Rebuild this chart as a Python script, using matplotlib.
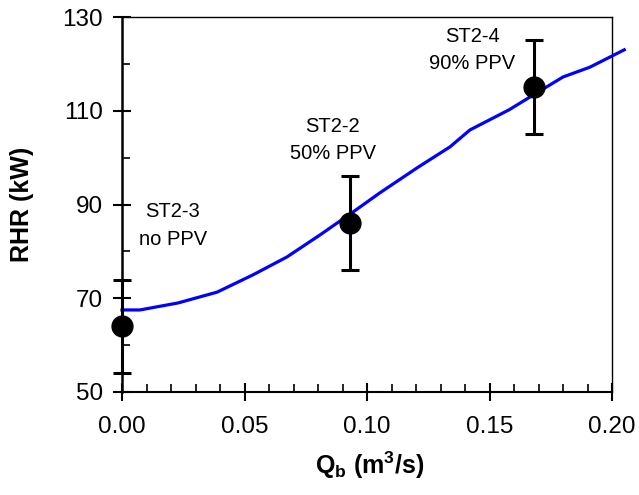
import matplotlib
matplotlib.use("Agg")
import matplotlib.pyplot as plt
from matplotlib.ticker import MultipleLocator, FixedLocator, FormatStrFormatter

plt.rcParams['font.family'] = ['Liberation Sans', 'DejaVu Sans']
plt.rcParams['mathtext.fontset'] = 'custom'
plt.rcParams['mathtext.rm'] = 'Liberation Sans'
plt.rcParams['mathtext.bf'] = 'Liberation Sans:bold'
plt.rcParams['mathtext.it'] = 'Liberation Sans:italic'

# Model curve
curve_q = [0.0, 0.0073, 0.0229, 0.0388, 0.0535, 0.0673, 0.0808, 0.0943, 0.1053,
           0.1204, 0.1339, 0.142, 0.158, 0.168, 0.180, 0.191, 0.205]
curve_rhr = [67.5, 67.5, 69.0, 71.3, 75.0, 78.8, 83.5, 88.4, 92.5,
             97.8, 102.3, 105.9, 110.2, 113.4, 117.2, 119.3, 123.0]

# Experiments
exp_q = [0.0, 0.093, 0.168]
exp_rhr = [64, 86, 115]
exp_err = [10, 10, 10]
exp_labels = ["ST2-3\nno PPV", "ST2-2\n50% PPV", "ST2-4\n90% PPV"]
label_pos = [(0.0208, 85.5), (0.0861, 103.7), (0.1429, 123.0)]

y_major = [50, 70, 90, 110, 130]
y_minor = [60, 80, 100, 120]

fig = plt.figure(figsize=(6.39, 4.95), dpi=100)
ax = fig.add_axes([122/639, 1-392/495, 490/639, 375/495])

ax.plot(curve_q, curve_rhr, color='#0000ff', lw=2.3, clip_on=False, zorder=3)
ax.errorbar(exp_q, exp_rhr, yerr=exp_err, fmt='o', color='black', ms=15,
            capsize=6.2, elinewidth=2.2, capthick=2.2, clip_on=False, zorder=4)

for (tx, ty), s in zip(label_pos, exp_labels):
    ax.text(tx, ty, s, ha='center', va='center', fontsize=14.5, linespacing=1.55)

ax.set_xlim(0, 0.20)
ax.set_ylim(50, 130)
ax.xaxis.set_major_locator(MultipleLocator(0.05))
ax.xaxis.set_minor_locator(MultipleLocator(0.01))
ax.yaxis.set_major_locator(FixedLocator(y_major))
ax.yaxis.set_minor_locator(FixedLocator(y_minor))
ax.xaxis.set_major_formatter(FormatStrFormatter('%.2f'))

ax.tick_params(which='major', direction='inout', length=13, width=1.5,
               labelsize=17.5, pad=7)
ax.tick_params(which='minor', direction='in', length=5.5, width=1.2)
ax.tick_params(axis='x', which='major', pad=11)

ax.spines['left'].set_linewidth(1.8)
ax.spines['bottom'].set_linewidth(1.5)
ax.spines['top'].set_linewidth(1.0)
ax.spines['right'].set_linewidth(1.0)

ax.set_xlabel(r'$\mathbf{Q_b\ (m^3/s)}$', fontsize=18, va='center')
ax.xaxis.set_label_coords(0.505, -0.195)
ax.set_ylabel('RHR (kW)', fontsize=18, fontweight='bold', va='center')
ax.yaxis.set_label_coords(-0.205, 0.5)

fig.savefig('out.png', dpi=100)
